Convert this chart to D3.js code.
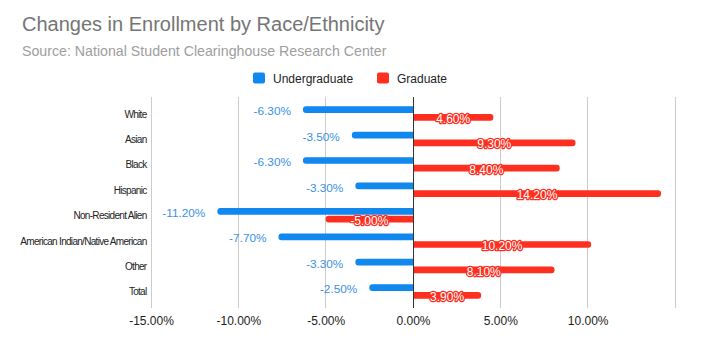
<!DOCTYPE html>
<html>
<head>
<meta charset="utf-8">
<script src="https://cdn.jsdelivr.net/npm/d3@7"></script>
<style>
  html, body { margin: 0; padding: 0; background: #fff; }
  svg { display: block; font-family: Arial, "Liberation Sans", sans-serif; }
</style>
</head>
<body>
<svg id="chart" width="718" height="358"></svg>
<script>
const categories = ["White", "Asian", "Black", "Hispanic", "Non-Resident Alien", "American Indian/Native American", "Other", "Total"];
const undergraduate = [-6.3, -3.5, -6.3, -3.3, -11.2, -7.7, -3.3, -2.5];
const graduate = [4.6, 9.3, 8.4, 14.2, -5.0, 10.2, 8.1, 3.9];
const seriesNames = ["Undergraduate", "Graduate"];
const xTicks = [-15, -10, -5, 0, 5, 10, 15];
const xTickLabels = ["-15.00%", "-10.00%", "-5.00%", "0.00%", "5.00%", "10.00%", ""];

const BLUE = "#1187f0", RED = "#fe2f1f", BLUE_LABEL = "#3a91e6";

const svg = d3.select("#chart");
const x = d3.scaleLinear().domain([-15, 15]).range([151, 675]);
const y = d3.scaleBand().domain(categories).range([100.8, 304.2]);
const plotTop = 97, plotBottom = 308;
const barH = 6.7, gap = 1;

// title
svg.append("text").attr("x", 22).attr("y", 31).attr("fill", "#757575")
  .attr("font-size", 20).text("Changes in Enrollment by Race/Ethnicity");
svg.append("text").attr("x", 22).attr("y", 56).attr("fill", "#9e9e9e")
  .attr("font-size", 14.2).text("Source: National Student Clearinghouse Research Center");

// legend
const legend = [{ name: seriesNames[0], color: BLUE, x: 253 }, { name: seriesNames[1], color: RED, x: 377 }];
legend.forEach(l => {
  svg.append("rect").attr("x", l.x).attr("y", 72.5).attr("width", 12).attr("height", 11)
    .attr("rx", 2).attr("fill", l.color);
  svg.append("text").attr("x", l.x + 20).attr("y", 82.5).attr("font-size", 12)
    .attr("fill", "#222").text(l.name);
});

// gridlines
const grid = svg.append("g");
xTicks.filter(t => t !== 0).forEach(t => {
  grid.append("line").attr("x1", x(t)).attr("x2", x(t)).attr("y1", plotTop).attr("y2", plotBottom)
    .attr("stroke", "#cccccc").attr("stroke-width", 1).attr("shape-rendering", "crispEdges");
});

// x axis labels
const xAxis = d3.axisBottom(x).tickValues(xTicks).tickSize(0)
  .tickFormat((d, i) => xTickLabels[i]);
const gx = svg.append("g").attr("transform", `translate(0,${plotBottom + 1})`).call(xAxis);
gx.select(".domain").remove();
gx.selectAll("text").attr("font-size", 12).attr("fill", "#222").attr("font-family", "Arial, 'Liberation Sans', sans-serif").attr("dy", "1.1em");

// y labels
const yAxis = d3.axisLeft(y).tickSize(0).tickPadding(0);
const gy = svg.append("g").attr("transform", `translate(146.5,0.5)`).call(yAxis);
gy.select(".domain").remove();
gy.selectAll("text").attr("font-size", 10).attr("fill", "#222")
  .attr("font-family", "Arial, 'Liberation Sans', sans-serif")
  .attr("letter-spacing", "-0.7px").attr("dy", "0.35em");

function barPath(v, top, h) {
  const x0 = x(0), x1 = x(v);
  const r = Math.min(3, Math.abs(x1 - x0));
  const s = v >= 0 ? 1 : -1;
  return `M${x0},${top} L${x1 - s * r},${top} Q${x1},${top} ${x1},${top + r} L${x1},${top + h - r} Q${x1},${top + h} ${x1 - s * r},${top + h} L${x0},${top + h} Z`;
}

const center = d => y(d) + y.bandwidth() / 2;

// bars
const gb = svg.append("g");
categories.forEach((c, i) => {
  const cy = center(c);
  const topU = cy - gap / 2 - barH;
  const topG = cy + gap / 2;
  gb.append("path").attr("d", barPath(undergraduate[i], topU, barH)).attr("fill", BLUE);
  gb.append("path").attr("d", barPath(graduate[i], topG, barH)).attr("fill", RED);
});

// zero line
svg.append("line").attr("x1", x(0)).attr("x2", x(0)).attr("y1", plotTop).attr("y2", plotBottom)
  .attr("stroke", "#333").attr("stroke-width", 1).attr("shape-rendering", "crispEdges");

// labels
const fmt = v => v.toFixed(2) + "%";
categories.forEach((c, i) => {
  const cy = center(c);
  const u = undergraduate[i];
  svg.append("text").attr("x", x(u) - 12).attr("y", cy - gap / 2 - barH / 2 + 1.5)
    .attr("dy", "0.35em").attr("text-anchor", "end").attr("font-size", 11.8)
    .attr("fill", BLUE_LABEL).text(fmt(u));
  const g = graduate[i];
  const mid = (x(0) + x(g)) / 2;
  svg.append("text").attr("x", mid).attr("y", cy + gap / 2 + barH / 2 + 1.5)
    .attr("dy", "0.35em").attr("text-anchor", "middle").attr("font-size", 12)
    .attr("fill", "#fff").attr("stroke", RED).attr("stroke-width", 2.5)
    .attr("paint-order", "stroke").attr("stroke-linejoin", "round").text(fmt(g));
});
</script>
</body>
</html>
